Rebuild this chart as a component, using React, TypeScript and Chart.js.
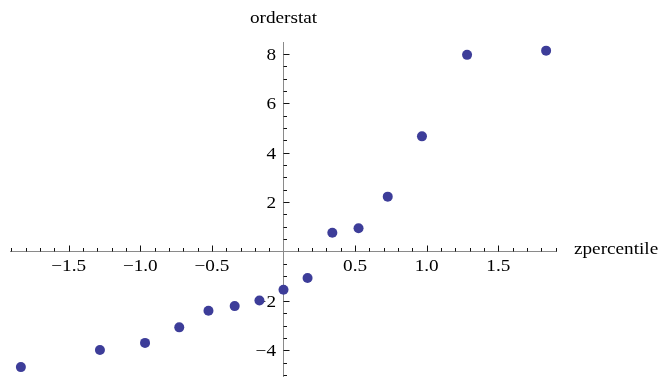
import { useEffect, useRef } from 'react';
import { Chart, registerables } from 'chart.js';

Chart.register(...registerables);

const zpercentile = [-1.834, -1.282, -0.967, -0.728, -0.524, -0.341, -0.168, 0, 0.168, 0.341, 0.524, 0.728, 0.967, 1.282, 1.834];
const orderstat = [-4.68, -3.99, -3.7, -3.07, -2.4, -2.21, -1.98, -1.55, -1.07, 0.76, 0.94, 2.22, 4.66, 7.96, 8.13];

const xTickValues = [-1.5, -1.0, -0.5, 0.5, 1.0, 1.5];
const xTickLabels = ['−1.5', '−1.0', '−0.5', '0.5', '1.0', '1.5'];
const yTickValues = [-4, -2, 2, 4, 6, 8];
const yTickLabels = ['−4', '−2', '2', '4', '6', '8'];

const xAxisTitle = 'zpercentile';
const yAxisTitle = 'orderstat';

const FONT = '16px "Liberation Serif", "Times New Roman", serif';
const STRETCH = 1.2;

function drawText(ctx: CanvasRenderingContext2D, text: string, x: number, y: number, align: CanvasTextAlign) {
  ctx.save();
  ctx.translate(x, y);
  ctx.scale(STRETCH, 1);
  ctx.textAlign = align;
  ctx.textBaseline = 'alphabetic';
  ctx.fillText(text, 0, 0);
  ctx.restore();
}

const axesPlugin = {
  id: 'mmaAxes',
  beforeDatasetsDraw(chart: any) {
    const ctx: CanvasRenderingContext2D = chart.ctx;
    const xs = chart.scales.x;
    const ys = chart.scales.y;
    const area = chart.chartArea;
    const x0 = Math.round(xs.getPixelForValue(0)) - 0.5;
    const y0 = Math.round(ys.getPixelForValue(0)) + 0.5;

    ctx.save();
    // axis lines
    ctx.strokeStyle = '#8a8a8a';
    ctx.lineWidth = 1;
    ctx.beginPath();
    ctx.moveTo(area.left, y0);
    ctx.lineTo(area.right, y0);
    ctx.moveTo(x0, area.top);
    ctx.lineTo(x0, area.bottom);
    ctx.stroke();

    // ticks
    ctx.strokeStyle = '#111';
    ctx.beginPath();
    for (let k = -19; k <= 19; k++) {
      if (k === 0) continue;
      const v = k / 10;
      if (v < xs.min || v > xs.max) continue;
      const px = Math.round(xs.getPixelForValue(v)) + 0.5;
      const len = k % 5 === 0 ? 6 : 3.5;
      ctx.moveTo(px, y0);
      ctx.lineTo(px, y0 - len);
    }
    for (let k = -10; k <= 16; k++) {
      if (k === 0) continue;
      const v = k / 2;
      if (v < ys.min || v > ys.max) continue;
      const py = Math.round(ys.getPixelForValue(v)) + 0.5;
      const len = k % 4 === 0 ? 6 : 3.5;
      ctx.moveTo(x0, py);
      ctx.lineTo(x0 + len, py);
    }
    ctx.stroke();

    // tick labels
    ctx.fillStyle = '#000';
    ctx.font = FONT;
    xTickValues.forEach((v, i) => {
      const px = xs.getPixelForValue(v);
      drawText(ctx, xTickLabels[i], px, y0 + 19.5, 'center');
    });
    yTickValues.forEach((v, i) => {
      const py = ys.getPixelForValue(v);
      drawText(ctx, yTickLabels[i], x0 - 7.5, py + 6, 'right');
    });

    // axis titles
    drawText(ctx, yAxisTitle, x0, 23, 'center');
    drawText(ctx, xAxisTitle, area.right + 17, y0 + 2.5, 'left');
    ctx.restore();
  },
};

export default function App() {
  const canvasRef = useRef<HTMLCanvasElement | null>(null);

  useEffect(() => {
    document.body.style.margin = '0';
    const canvas = canvasRef.current;
    if (!canvas) return;
    const chart = new Chart(canvas, {
      type: 'scatter',
      data: {
        datasets: [
          {
            data: zpercentile.map((x, i) => ({ x, y: orderstat[i] })),
            backgroundColor: '#3d3d99',
            borderWidth: 0,
            pointRadius: 5,
            pointHoverRadius: 5,
            clip: false,
          },
        ],
      },
      options: {
        animation: false,
        responsive: true,
        maintainAspectRatio: false,
        layout: { autoPadding: false, padding: { left: 10, right: 114, top: 42, bottom: 0 } },
        scales: {
          x: { type: 'linear', min: -1.91, max: 1.91, display: false },
          y: { type: 'linear', min: -5.08, max: 8.48, display: false },
        },
        plugins: {
          legend: { display: false },
          tooltip: { enabled: false },
        },
      },
      plugins: [axesPlugin],
    });
    return () => chart.destroy();
  }, []);

  return (
    <div style={{ position: 'relative', width: 671, height: 377 }}>
      <canvas ref={canvasRef} />
    </div>
  );
}
